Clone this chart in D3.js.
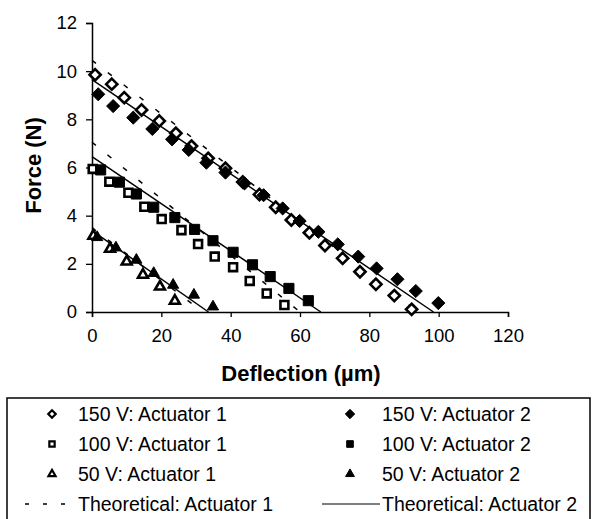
<!DOCTYPE html>
<html>
<head>
<meta charset="utf-8">
<script src="https://cdn.jsdelivr.net/npm/d3@7"></script>
<style>
  body { margin: 0; background: #fff; }
  text { font-family: "Liberation Sans", Arial, sans-serif; fill: #000; }
</style>
</head>
<body>
<div id="wrapper"></div>
<script>
// deflection (um) / force (N)
const open150X = [0.9, 5.7, 9.3, 14.3, 19.4, 24.2, 28.7, 33.5, 38.5, 43.5, 48.3, 53, 57.5, 62.7, 67.2, 72.3, 77.3, 81.9, 87.2, 92.2];
const open150Y = [9.85, 9.46, 8.9, 8.39, 7.93, 7.42, 6.89, 6.38, 5.97, 5.4, 4.88, 4.35, 3.82, 3.29, 2.76, 2.23, 1.67, 1.15, 0.68, 0.11];
const fill150X = [1.8, 6.1, 11.9, 17.4, 23.1, 27.9, 33, 38.5, 44, 49.5, 55, 59.9, 65.3, 70.9, 76.8, 82.1, 88.1, 93.4, 99.9];
const fill150Y = [9.04, 8.55, 8.07, 7.6, 7.17, 6.73, 6.2, 5.79, 5.34, 4.85, 4.3, 3.78, 3.33, 2.81, 2.3, 1.81, 1.36, 0.87, 0.37];
const open100X = [0.2, 5, 10.5, 15.1, 20.1, 25.8, 30.6, 35.4, 40.7, 45.5, 50.4, 55.5];
const open100Y = [5.94, 5.41, 4.95, 4.37, 3.86, 3.4, 2.82, 2.3, 1.86, 1.29, 0.77, 0.29];
const fill100X = [2.5, 7.9, 12.8, 17.8, 23.9, 29.6, 34.9, 40.7, 46.3, 51.4, 56.8, 62.4];
const fill100Y = [5.9, 5.39, 4.9, 4.35, 3.92, 3.43, 2.96, 2.48, 1.96, 1.47, 0.98, 0.47];
const open50X = [0.4, 5.2, 10, 14.7, 19.6, 23.9];
const open50Y = [3.16, 2.62, 2.09, 1.54, 1.05, 0.46];
const fill50X = [1.5, 6.9, 12.8, 17.8, 23.4, 29.4, 34.9];
const fill50Y = [3.1, 2.67, 2.16, 1.61, 1.12, 0.71, 0.22];

// theoretical lines: [x0, y0, x1, y1]
const theory1 = [[0, 10.45, 94, 0], [0, 7.05, 60, 0], [0, 3.5, 32, 0]];
const theory2 = [[0, 9.65, 98.5, 0], [0, 6.45, 66, 0], [0, 3.38, 33.6, 0]];

const xTicks = [0, 20, 40, 60, 80, 100, 120];
const yTicks = [0, 2, 4, 6, 8, 10, 12];

const legendLeft = ["150 V: Actuator 1", "100 V: Actuator 1", "50 V: Actuator 1", "Theoretical: Actuator 1"];
const legendRight = ["150 V: Actuator 2", "100 V: Actuator 2", "50 V: Actuator 2", "Theoretical: Actuator 2"];

const width = 592, height = 519;
const svg = d3.select("#wrapper").append("svg")
  .attr("width", width).attr("height", height);

const xScale = d3.scaleLinear().domain([0, 120]).range([92, 508]);
const yScale = d3.scaleLinear().domain([0, 12]).range([312, 23]);

// axes
const xAxis = svg.append("g")
  .attr("transform", `translate(0,${yScale(0)})`)
  .call(d3.axisBottom(xScale).tickValues(xTicks).tickSize(5).tickPadding(12));
const yAxis = svg.append("g")
  .attr("transform", `translate(${xScale(0)},0)`)
  .call(d3.axisLeft(yScale).tickValues(yTicks).tickSize(6).tickPadding(9));
[xAxis, yAxis].forEach(a => {
  a.select(".domain").attr("stroke", "#000").attr("stroke-width", 1.5);
  a.selectAll(".tick line").attr("stroke", "#000").attr("stroke-width", 1.3);
  a.selectAll(".tick text").style("font-size", "18.5px")
    .style("font-family", "Liberation Sans, Arial, sans-serif").attr("fill", "#000");
});

svg.append("text")
  .attr("x", 301).attr("y", 381)
  .attr("text-anchor", "middle")
  .style("font-size", "22px").style("font-weight", "bold")
  .text("Deflection (\u00b5m)");

svg.append("text")
  .attr("transform", `translate(41,${yScale(6) - 2}) rotate(-90)`)
  .attr("text-anchor", "middle")
  .style("font-size", "22px").style("font-weight", "bold")
  .text("Force (N)");

// theoretical lines
const lineGen = d3.line().x(d => xScale(d[0])).y(d => yScale(d[1]));
theory1.forEach(t => {
  svg.append("path")
    .attr("d", lineGen([[t[0], t[1]], [t[2], t[3]]]))
    .attr("fill", "none").attr("stroke", "#000")
    .attr("stroke-width", 1.5).attr("stroke-dasharray", "5,15");
});
theory2.forEach(t => {
  svg.append("path")
    .attr("d", lineGen([[t[0], t[1]], [t[2], t[3]]]))
    .attr("fill", "none").attr("stroke", "#000")
    .attr("stroke-width", 1.5);
});

// markers
const sym = {
  diamond: d3.symbol().type(d3.symbolDiamond2),
  square: d3.symbol().type(d3.symbolSquare2),
  triangle: d3.symbol().type(d3.symbolTriangle2)
};

function drawPoints(xs, ys, shape, filled, size) {
  const pts = xs.map((x, i) => [x, ys[i]]);
  svg.append("g").selectAll("path")
    .data(pts)
    .join("path")
    .attr("d", sym[shape].size(size)())
    .attr("transform", d => `translate(${xScale(d[0])},${yScale(d[1])})`)
    .attr("fill", filled ? "#000" : "#fff")
    .attr("stroke", "#000")
    .attr("stroke-width", filled ? 1 : 2.6);
}

drawPoints(open150X, open150Y, "diamond", false, 80);
drawPoints(fill150X, fill150Y, "diamond", true, 110);
drawPoints(open100X, open100Y, "square", false, 80);
drawPoints(fill100X, fill100Y, "square", true, 130);
drawPoints(open50X, open50Y, "triangle", false, 70);
drawPoints(fill50X, fill50Y, "triangle", true, 90);

// legend
svg.append("rect")
  .attr("x", 7).attr("y", 398)
  .attr("width", 583).attr("height", 140)
  .attr("fill", "none").attr("stroke", "#000").attr("stroke-width", 1.5);

const rowY = [414, 444, 474, 504];
const legendShapes = ["diamond", "square", "triangle"];

legendLeft.forEach((label, i) => {
  svg.append("text").attr("x", 78).attr("y", rowY[i]).attr("dy", "0.35em")
    .style("font-size", "19.5px").text(label);
});
legendRight.forEach((label, i) => {
  svg.append("text").attr("x", 382).attr("y", rowY[i]).attr("dy", "0.35em")
    .style("font-size", "19.5px").text(label);
});
legendShapes.forEach((s, i) => {
  svg.append("path")
    .attr("d", sym[s].size(36)())
    .attr("transform", `translate(52,${rowY[i]})`)
    .attr("fill", "#fff").attr("stroke", "#000").attr("stroke-width", 2.2);
  svg.append("path")
    .attr("d", sym[s].size(56)())
    .attr("transform", `translate(350,${rowY[i]})`)
    .attr("fill", "#000").attr("stroke", "#000").attr("stroke-width", 1);
});
svg.append("line")
  .attr("x1", 25).attr("x2", 72).attr("y1", rowY[3]).attr("y2", rowY[3])
  .attr("stroke", "#000").attr("stroke-width", 1.5).attr("stroke-dasharray", "4,14");
svg.append("line")
  .attr("x1", 322).attr("x2", 380).attr("y1", rowY[3]).attr("y2", rowY[3])
  .attr("stroke", "#000").attr("stroke-width", 1.2);
</script>
</body>
</html>
